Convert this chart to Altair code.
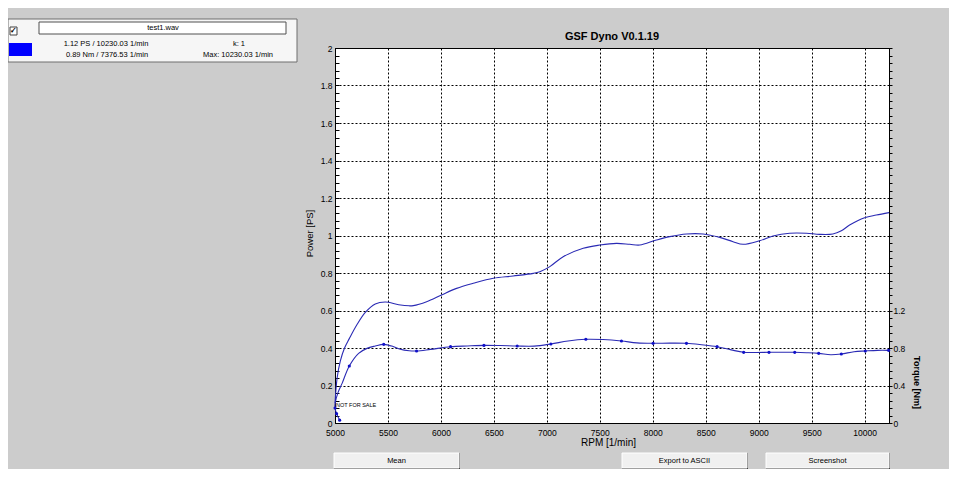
import altair as alt
import pandas as pd

# ---------------- data ----------------
rpm_power = [5000, 5020, 5050, 5090, 5135, 5208, 5286, 5380, 5475, 5601, 5700, 5739, 5865,
             6006, 6148, 6305, 6494, 6682, 6871, 6934, 7028, 7154, 7343, 7500, 7657, 7783,
             7877, 8034, 8160, 8318, 8475, 8632, 8758, 8852, 9009, 9135, 9292, 9450, 9575,
             9700, 9780, 9858, 10000, 10110, 10230]
power_ps = [0.105, 0.24, 0.33, 0.40, 0.45, 0.525, 0.59, 0.635, 0.645, 0.631, 0.625, 0.626, 0.647,
            0.683, 0.718, 0.745, 0.772, 0.784, 0.798, 0.807, 0.834, 0.887, 0.932, 0.949, 0.958, 0.953,
            0.949, 0.976, 0.994, 1.008, 1.008, 0.990, 0.967, 0.953, 0.972, 0.997, 1.012, 1.012, 1.006,
            1.008, 1.025, 1.056, 1.095, 1.109, 1.122]

rpm_torque = [5044, 5015, 5000, 5003, 5030, 5066, 5135, 5223, 5302, 5380,
              5460, 5554, 5616, 5700, 5770, 5900, 6091, 6250, 6406, 6560,
              6720, 6880, 7038, 7200, 7368, 7530, 7704, 7850, 8003, 8160,
              8318, 8460, 8607, 8740, 8858, 8980, 9097, 9220, 9340, 9450,
              9566, 9680, 9780, 9900, 10006, 10120, 10226]
torque_nm = [0.03, 0.10, 0.16, 0.22, 0.33, 0.42, 0.608, 0.743, 0.796, 0.821,
             0.839, 0.814, 0.786, 0.77, 0.768, 0.785, 0.814, 0.822, 0.828, 0.826,
             0.821, 0.82, 0.843, 0.875, 0.893, 0.89, 0.875, 0.855, 0.850, 0.852,
             0.850, 0.835, 0.814, 0.78, 0.754, 0.752, 0.754, 0.755, 0.754, 0.75,
             0.743, 0.728, 0.736, 0.76, 0.768, 0.775, 0.775]
torque_marker = [1, 1, 1, 0, 0, 0, 1, 0, 0, 0,
                 1, 0, 0, 0, 1, 0, 1, 0, 1, 0,
                 1, 0, 1, 0, 1, 0, 1, 0, 1, 0,
                 1, 0, 1, 0, 1, 0, 1, 0, 1, 0,
                 1, 0, 1, 0, 1, 0, 1]

x_ticks = [5000, 5500, 6000, 6500, 7000, 7500, 8000, 8500, 9000, 9500, 10000]
ps_ticks = [round(i * 0.04, 2) for i in range(51)]     # major every 0.2, 4 minor between
nm_ticks = [round(i * 0.08, 2) for i in range(51)]     # major every 0.4

title_text = "GSF Dyno V0.1.19"
file_name = "test1.wav"
info_lines = ["1.12 PS / 10230.03 1/min", "0.89 Nm / 7376.53 1/min", "k: 1", "Max: 10230.03 1/min"]
button_labels = ["Mean", "Export to ASCII", "Screenshot"]

# ---------------- styling ----------------
FONT = "Liberation Sans"
LINE = "#2a2ab4"
BG = "#cccccc"
OX, OY = 335, 48          # screen position of the plot origin
W, H = 554, 375

power_df = pd.DataFrame({"i": list(range(len(rpm_power))), "rpm": rpm_power, "ps": power_ps})
torque_df = pd.DataFrame({"i": list(range(len(rpm_torque))), "rpm": rpm_torque,
                          "nm": torque_nm, "m": torque_marker})
one = pd.DataFrame({"a": [0]})

x_enc = alt.X(
    "rpm:Q",
    scale=alt.Scale(domain=[5000, 10230], nice=False, zero=False),
    axis=alt.Axis(
        values=x_ticks, format="d", title="RPM [1/min]", grid=True, gridColor="black",
        gridDash=[2, 2], gridOpacity=1, ticks=False, labelPadding=5, labelFlush=False,
        labelFontSize=8.5, labelFont=FONT, labelColor="black", domainColor="black",
        titleFont=FONT, titleFontSize=10, titleFontWeight="normal", titleColor="black",
        titleX=273, titleY=19, titleBaseline="middle", labelOverlap=False,
    ),
)

major_ps = "abs(datum.value*5 - round(datum.value*5)) < 0.001"
y_power = alt.Y(
    "ps:Q",
    scale=alt.Scale(domain=[0, 2], nice=False, zero=True),
    axis=alt.Axis(
        orient="left", values=ps_ticks, title="Power [PS]",
        labelExpr=f"{major_ps} ? format(datum.value, '~g') : ''",
        grid=True, gridColor="black", gridDash=[2, 2],
        gridOpacity={"condition": {"test": major_ps, "value": 1}, "value": 0},
        tickSize=alt.ExprRef(expr="-4"), tickColor="black", labelPadding=7,
        labelFontSize=8.5, labelFont=FONT, labelColor="black", labelOverlap=False,
        domainColor="black", titleFont=FONT, titleFontSize=9.5, titleFontWeight="normal",
        titleColor="black", titleX=-26, titleY=185, titleAngle=270, titleBaseline="middle",
    ),
)

major_nm = "datum.value < 1.25 && abs(datum.value*2.5 - round(datum.value*2.5)) < 0.001"
y_torque = alt.Y(
    "nm:Q",
    scale=alt.Scale(domain=[0, 4], nice=False, zero=True),
    axis=alt.Axis(
        orient="right", values=nm_ticks, title="Torque [Nm]",
        labelExpr=f"{major_nm} ? format(datum.value, '~g') : ''",
        grid=False, tickSize=3, tickColor="black", labelPadding=1,
        labelFontSize=8.5, labelFont=FONT, labelColor="black", labelOverlap=False,
        domainColor="black", titleFont=FONT, titleFontSize=9, titleFontWeight="bold",
        titleColor="black", titleX=27, titleY=334, titleAngle=90, titleBaseline="middle",
    ),
)

power_line = alt.Chart(power_df).mark_line(
    color=LINE, strokeWidth=1.1, interpolate="catmull-rom"
).encode(x=x_enc, y=y_power, order="i:Q")

torque_line = alt.Chart(torque_df).mark_line(
    color=LINE, strokeWidth=1.1, interpolate="catmull-rom"
).encode(x=x_enc, y=y_torque, order="i:Q")

torque_pts = alt.Chart(torque_df).transform_filter(alt.datum.m == 1).mark_circle(
    color="#1010c8", size=10, opacity=1
).encode(x=x_enc, y=y_torque)

torque = alt.layer(torque_line, torque_pts)


# ---------------- window decorations (screen coordinates) ----------------
def rect(x, x2, y, y2, fill, stroke=None):
    kw = {"fill": fill}
    if stroke is not None:
        kw.update(stroke=stroke, strokeWidth=1)
    return alt.Chart(one).mark_rect(**kw).encode(
        x=alt.value(x - OX), x2=alt.value(x2 - OX), y=alt.value(y - OY), y2=alt.value(y2 - OY))


def label(x, y, s, size=7.5, align="center", weight="normal"):
    return alt.Chart(one).mark_text(
        text=s, fontSize=size, align=align, baseline="middle", font=FONT,
        fontWeight=weight, color="black"
    ).encode(x=alt.value(x - OX), y=alt.value(y - OY))


decor = [
    # chart title
    label(612, 37, title_text, size=11, weight="bold"),
    # info box
    rect(8, 297, 19, 62, "#f6f6f6", "#6e6e6e"),
    rect(10, 17, 27, 35, "white", "#404040"),
    label(13.5, 31, "\u2713", size=8, weight="bold"),
    rect(39, 286, 22, 34, "white", "#505050"),
    label(163, 28, file_name),
    rect(9, 32, 43, 56, "#0000ff"),
    label(106, 44, info_lines[0]),
    label(107, 55, info_lines[1]),
    label(239, 44, info_lines[2]),
    label(238, 55, info_lines[3]),
    # watermark
    label(336, 405, "NOT FOR SALE", size=5.5, align="left"),
]
button_pos = [(334, 459), (622, 747), (766, 889)]
for bx, bx2 in button_pos:
    decor.append(rect(bx, bx2 + 1, 453, 469, "#404040"))
    decor.append(rect(bx, bx2, 453, 468, "#f0f0f0", "#ffffff"))
for (bx, bx2), s in zip(button_pos, button_labels):
    decor.append(label((bx + bx2) / 2, 460.5, s))

chart = alt.layer(power_line, torque, *decor).resolve_scale(y="independent").properties(
    width=W, height=H,
    autosize=alt.AutoSizeParams(type="none"),
    padding={"left": OX - 8, "top": OY - 8, "right": 957 - 16 - (OX - 8) - W, "bottom": 46},
).configure(background=BG).configure_view(fill="white", stroke="black", strokeWidth=1)

chart.save("out.html", embed_options={"renderer": "svg", "actions": False})
